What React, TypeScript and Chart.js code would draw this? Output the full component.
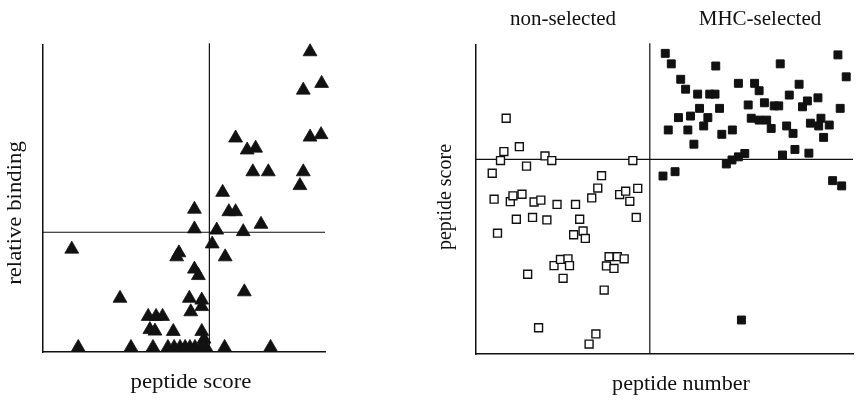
import React, { useEffect, useRef } from 'react';
import { Chart, registerables } from 'chart.js';

Chart.register(...registerables);

// ---------- Left panel: relative binding vs peptide score (filled triangles)
const leftScore = [
  94.7, 98.8, 92.3, 94.7, 98.6, 68.3, 72.4, 75.4, 74.4, 79.9, 92.3, 91.1, 63.7, 53.7,
  65.9, 68.3, 77.3, 53.7, 61.6, 71.0, 60.0, 10.2, 48.2, 47.4, 64.6, 53.7, 55.1, 71.4,
  27.3, 51.9, 56.3, 56.3, 52.4, 37.3, 40.1, 42.4, 37.9, 39.7, 46.2, 56.3, 57.1,
  12.5, 31.2, 39.0, 44.3, 46.5, 48.6, 50.4, 52.1, 53.9, 56.0, 57.8, 64.4, 80.7,
];
const leftBinding = [
  97.8, 87.5, 85.3, 70.0, 70.8, 69.7, 65.8, 66.4, 58.7, 58.7, 58.7, 54.2, 52.0, 46.5,
  45.7, 45.7, 41.6, 40.1, 39.7, 39.2, 35.2, 33.5, 32.3, 31.0, 31.0, 27.0, 24.9, 19.6,
  17.5, 17.5, 16.9, 14.8, 13.1, 11.6, 11.6, 11.6, 7.3, 6.8, 6.7, 6.7, 4.2,
  1.5, 1.5, 1.5, 1.5, 1.5, 1.5, 1.5, 1.5, 1.5, 1.5, 1.5, 1.5, 1.5,
];
const leftScoreCut = 59;
const leftBindingCut = 39;

// ---------- Right panel: peptide score vs peptide number
const openNumber = [
  8.0, 11.5, 7.4, 6.5, 13.4, 18.3, 20.1, 41.6, 4.3, 33.3, 32.3, 30.7, 38.1, 39.7, 40.8, 42.9,
  4.8, 9.1, 9.8, 12.2, 15.4, 17.2, 21.5, 26.4, 10.7, 15.0, 18.8, 27.5, 42.5, 5.7, 25.9, 28.4,
  29.0, 20.7, 22.4, 24.4, 24.8, 23.1, 13.7, 35.3, 37.5, 39.3, 34.6, 36.6, 34.0, 16.6, 31.8, 30.0,
];
const openScore = [
  76.3, 67.1, 65.5, 62.6, 60.8, 64.1, 62.6, 62.6, 58.5, 57.7, 53.7, 50.5, 51.6, 52.7, 49.4, 53.6,
  50.1, 49.3, 51.2, 51.7, 49.2, 49.8, 48.4, 48.4, 43.6, 44.2, 43.4, 43.6, 44.2, 39.1, 38.6, 39.8,
  37.4, 28.6, 30.6, 30.8, 28.6, 24.5, 25.8, 31.5, 31.5, 30.8, 28.5, 27.7, 20.7, 8.5, 6.5, 3.2,
];
const filledNumber = [
  50.2, 51.8, 63.6, 80.7, 96.0, 98.2, 54.3, 55.6, 58.8, 62.0, 63.4, 69.6, 73.9, 75.1, 85.7,
  83.1, 90.7, 87.9, 86.6, 96.6, 76.5, 79.1, 80.3, 72.2, 64.6, 59.3, 56.9, 53.7, 61.5, 60.4,
  51.0, 56.2, 57.8, 65.2, 68.0, 73.0, 75.1, 77.1, 78.3, 82.4, 84.1, 88.7, 91.5, 93.7, 90.9,
  92.2, 84.6, 81.3, 88.3, 71.3, 69.6, 67.9, 66.4, 49.6, 52.8, 94.6, 97.0, 70.4,
];
const filledScore = [
  97.3, 93.9, 93.2, 93.9, 96.8, 89.7, 88.9, 85.7, 84.1, 84.1, 84.1, 87.6, 87.6, 85.2, 87.3,
  83.8, 82.9, 81.9, 80.0, 79.5, 81.3, 80.3, 80.3, 80.6, 79.5, 79.5, 77.0, 76.5, 76.5, 73.8,
  72.5, 72.5, 67.9, 71.1, 72.5, 76.3, 75.7, 75.7, 73.0, 73.8, 71.4, 74.7, 76.3, 74.1, 73.8,
  70.1, 66.2, 64.4, 65.0, 64.9, 63.8, 62.8, 61.5, 57.6, 59.0, 56.1, 54.4, 11.0,
];
const rightNumberCut = 46.1;
const rightScoreCut = 63;

const leftTitles = { y: 'relative binding', x: 'peptide score' };
const rightTitles = { y: 'peptide score', x: 'peptide number', groups: ['non-selected', 'MHC-selected'] };

const INK = '#111111';
const FONT = '"Liberation Serif", "Times New Roman", serif';

type Label = { text: string; x: number; y: number; size: number; stretch: number; rotate?: boolean };

const textPlugin = (id: string, labels: Label[]) => ({
  id,
  afterDraw(chart: any) {
    const ctx = chart.ctx as CanvasRenderingContext2D;
    labels.forEach((l) => {
      ctx.save();
      ctx.translate(l.x, l.y);
      if (l.rotate) ctx.rotate(-Math.PI / 2);
      ctx.scale(l.stretch, 1);
      ctx.font = `${l.size}px ${FONT}`;
      ctx.fillStyle = INK;
      ctx.textAlign = 'center';
      ctx.textBaseline = 'alphabetic';
      ctx.fillText(l.text, 0, 0);
      ctx.restore();
    });
  },
});

const pts = (xs: number[], ys: number[]) => xs.map((x, i) => ({ x, y: ys[i] }));

const refLine = (a: { x: number; y: number }, b: { x: number; y: number }) => ({
  data: [a, b],
  showLine: true,
  borderColor: INK,
  borderWidth: 1.2,
  pointRadius: 0,
  clip: false as const,
  order: 10,
});

const axis = (min: number, max: number) => ({
  type: 'linear' as const,
  min,
  max,
  grid: { display: false, drawTicks: false, tickLength: 0 },
  ticks: { display: false },
  border: { display: true, color: INK, width: 1.5 },
});

export default function App() {
  const leftRef = useRef<HTMLCanvasElement>(null);
  const rightRef = useRef<HTMLCanvasElement>(null);

  useEffect(() => {
    const left = new Chart(leftRef.current!, {
      type: 'scatter',
      data: {
        datasets: [
          {
            data: pts(leftScore, leftBinding),
            pointStyle: 'triangle',
            pointRadius: 8,
            backgroundColor: INK,
            borderColor: INK,
            borderWidth: 0.8,
            clip: false,
            order: 0,
          },
          refLine({ x: leftScoreCut, y: 0 }, { x: leftScoreCut, y: 100.6 }),
          refLine({ x: 0, y: leftBindingCut }, { x: 100, y: leftBindingCut }),
        ] as any,
      },
      options: {
        responsive: false,
        animation: false,
        devicePixelRatio: 1,
        layout: { padding: { left: 43, right: 15, top: 45, bottom: 49 } },
        scales: { x: axis(0, 100), y: axis(0, 100) } as any,
        plugins: { legend: { display: false }, tooltip: { enabled: false } },
      },
      plugins: [
        textPlugin('leftText', [
          { text: leftTitles.y, x: 20.5, y: 213, size: 20, stretch: 1.14, rotate: true },
          { text: leftTitles.x, x: 191, y: 388, size: 20, stretch: 1.14 },
        ]),
      ],
    });

    const right = new Chart(rightRef.current!, {
      type: 'scatter',
      data: {
        datasets: [
          {
            data: pts(filledNumber, filledScore),
            pointStyle: 'rect',
            pointRadius: 5.6,
            backgroundColor: INK,
            borderColor: INK,
            borderWidth: 1,
            clip: false,
            order: 0,
          },
          {
            data: pts(openNumber, openScore),
            pointStyle: 'rect',
            pointRadius: 5.6,
            backgroundColor: '#ffffff',
            borderColor: INK,
            borderWidth: 1.4,
            clip: false,
            order: 1,
          },
          refLine({ x: rightNumberCut, y: 0 }, { x: rightNumberCut, y: 100.6 }),
          refLine({ x: 0, y: rightScoreCut }, { x: 100, y: rightScoreCut }),
        ] as any,
      },
      options: {
        responsive: false,
        animation: false,
        devicePixelRatio: 1,
        layout: { padding: { left: 76, right: 2, top: 45, bottom: 47 } },
        scales: { x: axis(0, 100), y: axis(0, 100) } as any,
        plugins: { legend: { display: false }, tooltip: { enabled: false } },
      },
      plugins: [
        textPlugin('rightText', [
          { text: rightTitles.y, x: 50.7, y: 197, size: 20, stretch: 1.0, rotate: true },
          { text: rightTitles.x, x: 281, y: 390, size: 21, stretch: 1.05 },
          { text: rightTitles.groups[0], x: 163, y: 25, size: 21, stretch: 1.0 },
          { text: rightTitles.groups[1], x: 360, y: 25, size: 21, stretch: 1.0 },
        ]),
      ],
    });

    return () => {
      left.destroy();
      right.destroy();
    };
  }, []);

  return (
    <div style={{ position: 'fixed', left: 0, top: 0, width: 860, height: 401, background: '#fff', overflow: 'hidden' }}>
      <canvas
        ref={leftRef}
        width={340}
        height={401}
        style={{ position: 'absolute', left: 0, top: 0, width: 340, height: 401 }}
      />
      <canvas
        ref={rightRef}
        width={460}
        height={401}
        style={{ position: 'absolute', left: 400, top: 0, width: 460, height: 401 }}
      />
    </div>
  );
}
